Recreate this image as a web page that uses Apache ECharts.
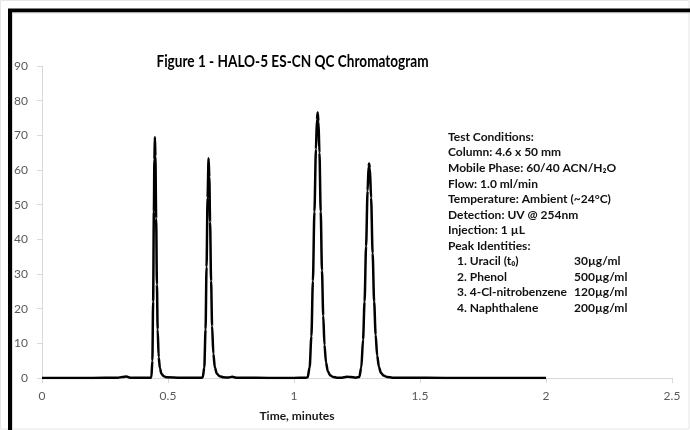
<!DOCTYPE html>
<html>
<head>
<meta charset="utf-8">
<script src="https://cdn.jsdelivr.net/npm/echarts@6/dist/echarts.min.js"></script>
<style>
html,body{margin:0;padding:0;background:#fff;}
#chart{width:690px;height:430px;}
</style>
</head>
<body>
<div id="chart"></div>
<script>
// Chromatogram trace (time in minutes, response)
const times = [
  0, 0.1, 0.2, 0.3, 0.32, 0.335, 0.35, 0.4, 0.43,
  0.434, 0.438, 0.441, 0.444, 0.446, 0.448, 0.450, 0.453, 0.456, 0.459, 0.463, 0.468, 0.474, 0.483, 0.495,
  0.55, 0.6, 0.632,
  0.638, 0.644, 0.649, 0.653, 0.657, 0.661, 0.664, 0.667, 0.671, 0.675, 0.680, 0.686, 0.694, 0.705, 0.72,
  0.74, 0.755, 0.77, 0.8, 0.9, 1.0, 1.045,
  1.054, 1.062, 1.069, 1.075, 1.081, 1.087, 1.091, 1.094, 1.097, 1.101, 1.106, 1.111, 1.116, 1.121, 1.127, 1.134, 1.143, 1.155, 1.17,
  1.19, 1.21, 1.225, 1.245,
  1.259, 1.267, 1.274, 1.280, 1.286, 1.292, 1.296, 1.298, 1.301, 1.306, 1.312, 1.318, 1.324, 1.330, 1.337, 1.345, 1.355, 1.37, 1.39,
  1.45, 1.6, 1.8, 2.0
];
const signal = [
  0, 0.02, 0.03, 0.05, 0.3, 0.4, 0.1, 0.05, 0.05,
  0.2, 5, 22, 48, 63, 69.5, 64, 46, 27, 14, 6, 2.8, 1.2, 0.5, 0.2,
  0.05, 0.05, 0.05,
  0.2, 3, 14, 32, 52, 63.4, 58, 45, 28, 15, 7, 3, 1.2, 0.5, 0.2,
  0.15, 0.35, 0.1, 0.05, 0.03, 0.03, 0.05,
  0.2, 3, 12, 28, 48, 66, 74.5, 76.6, 74, 65, 48, 31, 18, 9.5, 4.5, 2, 0.8, 0.3, 0.1,
  0.1, 0.35, 0.3, 0.1,
  0.3, 3, 11, 22, 38, 54, 61, 61.9, 60.5, 52, 36, 22, 12.5, 6.5, 3.2, 1.5, 0.7, 0.3, 0.1,
  0.05, 0.03, 0.02, 0
];
const xTicks = { min: 0, max: 2.5, interval: 0.5 };
const yTicks = { min: 0, max: 90, interval: 10 };
const titleText = 'Figure 1 - HALO-5 ES-CN QC Chromatogram';
const xAxisName = 'Time, minutes';
const conditionLines = [
  'Test Conditions:',
  'Column: 4.6 x 50 mm',
  'Mobile Phase: 60/40 ACN/H\u2082O',
  'Flow: 1.0 ml/min',
  'Temperature: Ambient (~24\u00B0C)',
  'Detection: UV @ 254nm',
  'Injection: 1 \u00B5L',
  'Peak Identities:'
];
const peakNames = ['1. Uracil (t\u2080)', '2. Phenol', '3. 4-Cl-nitrobenzene', '4. Naphthalene'];
const peakConc = ['30\u00B5g/ml', '500\u00B5g/ml', '120\u00B5g/ml', '200\u00B5g/ml'];

const FONT = 'Lato, "Open Sans", sans-serif';
const lineH = 15.55;
const textX = 448, textY0 = 137;
const textFont = 'bold 12px ' + FONT;
const graphics = [];
// frame
graphics.push({ type: 'rect', z: 100, silent: true,
  shape: { x: 0.5, y: 0.5, width: 688.5, height: 428.5 },
  style: { fill: null, stroke: '#e6e6e6', lineWidth: 1 } });
graphics.push({ type: 'rect', z: 101, silent: true,
  shape: { x: 10, y: 10.5, width: 720, height: 460 },
  style: { fill: null, stroke: '#000', lineWidth: 4 } });
graphics.push({ type: 'rect', z: 101, silent: true,
  shape: { x: 12.5, y: 13, width: 720, height: 460 },
  style: { fill: null, stroke: '#dcdcdc', lineWidth: 1 } });
// title
graphics.push({ type: 'text', z: 50, x: 292.5, y: 62, scaleX: 0.8, scaleY: 1,
  style: { text: titleText, font: 'bold 17px ' + FONT, fill: '#000', align: 'center', verticalAlign: 'middle' } });
conditionLines.forEach((t, i) => {
  graphics.push({ type: 'text', z: 50, x: textX, y: textY0 + i * lineH,
    style: { text: t, font: textFont, fill: '#111', align: 'left', verticalAlign: 'middle' } });
});
peakNames.forEach((t, i) => {
  const y = textY0 + (conditionLines.length + i) * lineH;
  graphics.push({ type: 'text', z: 50, x: 457, y: y,
    style: { text: t, font: textFont, fill: '#111', align: 'left', verticalAlign: 'middle' } });
  graphics.push({ type: 'text', z: 50, x: 574, y: y,
    style: { text: peakConc[i], font: textFont, fill: '#111', align: 'left', verticalAlign: 'middle' } });
});

const chart = echarts.init(document.getElementById('chart'), null, { renderer: 'canvas' });
chart.setOption({
  animation: false,
  backgroundColor: '#fff',
  grid: { left: 42, right: 18, top: 66, bottom: 52, containLabel: false },
  xAxis: {
    type: 'value', min: xTicks.min, max: xTicks.max, interval: xTicks.interval,
    name: xAxisName, nameLocation: 'middle', nameGap: 32,
    nameTextStyle: { fontFamily: FONT, fontWeight: 'bold', fontSize: 12, color: '#1a1a1a', padding: [0, 120, 0, 0] },
    axisLine: { lineStyle: { color: '#d9d9d9', width: 1 } },
    axisTick: { show: true, length: 5, lineStyle: { color: '#d9d9d9' } },
    axisLabel: { color: '#595959', fontFamily: FONT, fontSize: 12, margin: 12 },
    splitLine: { show: false }
  },
  yAxis: {
    type: 'value', min: yTicks.min, max: yTicks.max, interval: yTicks.interval,
    axisLine: { show: true, lineStyle: { color: '#d9d9d9', width: 1 } },
    axisTick: { show: true, length: 5, lineStyle: { color: '#d9d9d9' } },
    axisLabel: { color: '#595959', fontFamily: FONT, fontSize: 12, margin: 14 },
    splitLine: { show: false }
  },
  series: [{
    type: 'line',
    data: times.map((t, i) => [t, signal[i]]),
    showSymbol: false,
    smooth: 0.3,
    smoothMonotone: 'x',
    lineStyle: { color: '#000', width: 2.5 },
    z: 3
  }],
  graphic: graphics
});
</script>
</body>
</html>
